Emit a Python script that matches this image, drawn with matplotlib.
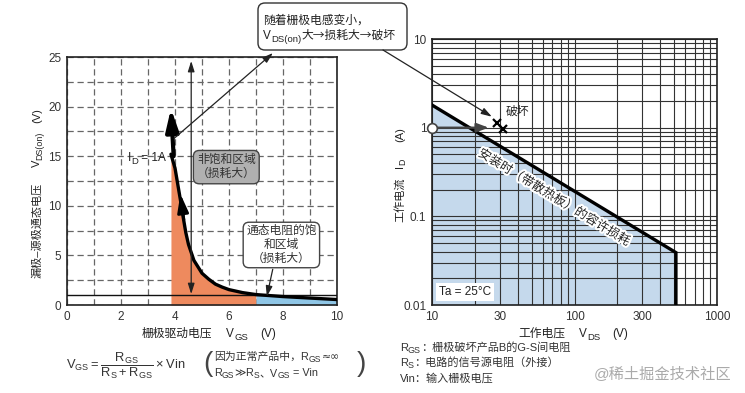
import numpy as np
import matplotlib
matplotlib.use('Agg')
import matplotlib.pyplot as plt
from matplotlib.patches import FancyBboxPatch
import matplotlib.patheffects as pe
from matplotlib.ticker import FixedLocator, LogLocator, NullFormatter

FAM = ['Liberation Sans', 'Noto Sans CJK SC', 'DejaVu Sans']
CJK = ['Noto Sans CJK SC', 'DejaVu Sans']
plt.rcParams['font.family'] = FAM
plt.rcParams['font.size'] = 8

# ---------------- data: left chart ----------------
vgs = [3.85, 4.0, 4.1, 4.2, 4.3, 4.4, 4.5, 4.7, 5.0, 5.25, 5.5, 5.75, 6.0, 6.5, 7.0, 8.0, 9.0, 10.0]
vds_on = [15.2, 13.8, 12.2, 10.6, 8.9, 7.3, 6.1, 4.5, 3.2, 2.6, 2.1, 1.8, 1.55, 1.25, 1.05, 0.85, 0.7, 0.55]
sat_boundary = 7.0
vds_ref = 1.0
left_xticks = [0, 2, 4, 6, 8, 10]
left_yticks = [0, 5, 10, 15, 20, 25]

# ---------------- data: right chart ----------------
soa_vds = [10, 515]
soa_id = [1.8, 0.039]
op_vds, op_id = 10, 1.0
op_arrow_vds = 25
break_vds = [28.5, 31.7]
break_id = [1.12, 0.96]
right_xticks = [10, 30, 100, 300, 1000]
right_xticklabels = ['10', '30', '100', '300', '1000']
right_yticks = [0.01, 0.1, 1, 10]
right_yticklabels = ['0.01', '0.1', '1', '10']

W, H = 745, 393
fig = plt.figure(figsize=(W / 100, H / 100), dpi=100)


def px_ax(l, t, r, b):
    return fig.add_axes([l / W, 1 - b / H, (r - l) / W, (b - t) / H])


ax1 = px_ax(67, 57, 337, 305)
ax2 = px_ax(432, 39, 717, 305)


def rich(ax, x, y, parts, coords='figure pixels', size=8, color='#222',
         rot=False, sub_scale=0.8, sub_off=1.3):
    """parts: list of (text, is_sub, gap_pts[, family])"""
    first = prev = None
    for p in parts:
        s, sub, gap = p[:3]
        fam = p[3] if len(p) > 3 else FAM
        fs = size * sub_scale if sub else size
        if first is None:
            t = ax.annotate(s, xy=(x, y), xycoords=coords, fontsize=fs, color=color,
                            ha='right' if rot else 'left',
                            va='bottom' if rot else 'baseline', family=fam,
                            rotation=90 if rot else 0, annotation_clip=False, zorder=8)
            first = t
        elif rot:
            t = ax.annotate(s, xy=(1, 1), xycoords=(first, prev),
                            xytext=(sub_off if sub else 0, gap), textcoords='offset points',
                            ha='right', va='bottom', rotation=90, fontsize=fs, family=fam,
                            color=color, annotation_clip=False, zorder=8)
        else:
            t = ax.annotate(s, xy=(1, 0), xycoords=(prev, first),
                            xytext=(gap, -sub_off if sub else 0), textcoords='offset points',
                            ha='left', va='bottom', fontsize=fs, color=color, family=fam,
                            annotation_clip=False, zorder=8)
        prev = t
    return first


# ---------------- left chart ----------------
ax1.set_xlim(0, 10)
ax1.set_ylim(0, 25)
ax1.set_xticks(left_xticks)
ax1.set_yticks(left_yticks)
ax1.xaxis.set_minor_locator(FixedLocator(np.arange(1, 10, 1)))
ax1.yaxis.set_minor_locator(FixedLocator(np.arange(2.5, 25, 2.5)))
ax1.grid(which='both', ls=(0, (5, 3)), color='#666', lw=0.9, zorder=1)
ax1.set_axisbelow(True)
ax1.tick_params(which='both', length=0, labelsize=8.5, colors='#333', pad=4)
for sp in ax1.spines.values():
    sp.set_color('#222')
    sp.set_linewidth(1.2)

x = np.array(vgs)
y = np.array(vds_on)
m1 = x <= sat_boundary
m2 = x >= sat_boundary
ax1.fill_between(x[m1], 0, y[m1], color='#ee8a5e', lw=0, zorder=2)
ax1.fill_between(x[m2], 0, y[m2], color='#8fc6e6', lw=0, zorder=2)
ax1.axhline(vds_ref, color='#111', lw=1.0, zorder=3)
ax1.plot(x, y, color='k', lw=2.4, zorder=4, solid_capstyle='round')

# thick arrow upward at top of the curve
ax1.annotate('', xy=(3.85, 19.8), xytext=(3.95, 15.0),
             arrowprops=dict(arrowstyle='-|>,head_length=1.1,head_width=0.32',
                             lw=3, color='k', mutation_scale=12, shrinkA=0, shrinkB=0),
             zorder=5)
# arrowhead on the curve
ax1.annotate('', xy=(4.2, 11.2), xytext=(4.33, 8.6),
             arrowprops=dict(arrowstyle='-|>,head_length=1.0,head_width=0.3',
                             lw=2, color='k', mutation_scale=11, shrinkA=0, shrinkB=0),
             zorder=5)
# thin double arrow
ax1.annotate('', xy=(4.6, 24.6), xytext=(4.6, 1.1),
             arrowprops=dict(arrowstyle='<|-|>,head_length=0.7,head_width=0.22',
                             lw=0.9, color='#222', mutation_scale=9, shrinkA=0, shrinkB=0),
             zorder=5)
# arrow to top annotation box
ax1.annotate('', xy=(273, H - 53), xycoords='figure pixels', xytext=(3.97, 16.8),
             textcoords='data',
             arrowprops=dict(arrowstyle='-|>,head_length=0.7,head_width=0.22',
                             lw=0.9, color='#222', mutation_scale=9, shrinkA=0, shrinkB=0),
             annotation_clip=False, zorder=6)

rich(ax1, 2.25, 14.5, [('I', False, 0), ('D', True, 0), (' = 1A', False, 0)],
     coords='data', size=8.5)

ax1.text(5.9, 13.9, '非饱和区域\n（损耗大）', ha='center', va='center', fontsize=8.5,
         color='#333', linespacing=1.25, zorder=7,
         bbox=dict(boxstyle='round,pad=0.3,rounding_size=0.5', fc='#b0b0b0',
                   ec='#444', lw=1))
ax1.text(7.94, 6.05, '通态电阻的饱\n和区域\n（损耗大）', ha='center', va='center',
         fontsize=8.5, color='#333', linespacing=1.2, zorder=7,
         bbox=dict(boxstyle='round,pad=0.25,rounding_size=0.5', fc='white',
                   ec='#444', lw=1))
ax1.annotate('', xy=(7.4, 0.85), xytext=(7.62, 3.6),
             arrowprops=dict(arrowstyle='-|>,head_length=0.7,head_width=0.22',
                             lw=0.9, color='#222', mutation_scale=9, shrinkA=0, shrinkB=0),
             zorder=6)

# left axis labels
rich(ax1, 142, H - 337, [('栅极驱动电压', False, 0), ('V', False, 10), ('GS', True, 0),
                         ('(V)', False, 9)], size=8.5)
rich(ax1, 42, H - 278, [('漏极–源极通态电压', False, 0), ('V', False, 11),
                        ('DS(on)', True, 0), ('(V)', False, 6)], size=8, rot=True)

# top annotation box
box = FancyBboxPatch((2.58, (H - 50) / 100), 1.49, 0.47,
                     boxstyle='round,pad=0,rounding_size=0.07',
                     transform=fig.dpi_scale_trans, fc='white', ec='#333', lw=1.0,
                     zorder=-1)
fig.add_artist(box)
rich(ax1, 263, H - 24, [('随着栅极电感变小，', False, 0)], size=8.5)
rich(ax1, 263, H - 39, [('V', False, 0), ('DS(on)', True, 0),
                        ('大→损耗大→破坏', False, 0, CJK)], size=8.5)

# formula
ax1.annotate(r'$\mathregular{V_{GS} = \dfrac{R_{GS}}{R_S + R_{GS}} \times Vin}$',
             xy=(66, H - 366), xycoords='figure pixels', ha='left', va='center',
             fontsize=9.3, color='#333', annotation_clip=False)
ax1.annotate('(', xy=(203, H - 364), xycoords='figure pixels', ha='left', va='center',
             fontsize=20, color='#444', annotation_clip=False)
ax1.annotate(')', xy=(357, H - 364), xycoords='figure pixels', ha='left', va='center',
             fontsize=20, color='#444', annotation_clip=False)
rich(ax1, 214, H - 360, [('因为正常产品中，R', False, 0), ('GS', True, 0),
                         ('≈∞', False, 0.5, ['DejaVu Sans'])],
     size=7.8, color='#333')
rich(ax1, 214, H - 376, [('R', False, 0), ('GS', True, 0), ('≫', False, 0, ['DejaVu Sans']),
                         ('R', False, 0), ('S', True, 0),
                         ('、V', False, 0), ('GS', True, 0), (' = Vin', False, 0)],
     size=7.8, color='#333')

# ---------------- right chart ----------------
ax2.set_xscale('log')
ax2.set_yscale('log')
ax2.set_xlim(10, 1000)
ax2.set_ylim(0.01, 10)
ax2.xaxis.set_major_locator(FixedLocator(right_xticks))
ax2.set_xticklabels(right_xticklabels)
ax2.yaxis.set_major_locator(FixedLocator(right_yticks))
ax2.set_yticklabels(right_yticklabels)
ax2.xaxis.set_minor_locator(LogLocator(base=10, subs=np.arange(2, 10) * 1.0, numticks=20))
ax2.yaxis.set_minor_locator(LogLocator(base=10, subs=np.arange(2, 10) * 1.0, numticks=20))
ax2.xaxis.set_minor_formatter(NullFormatter())
ax2.yaxis.set_minor_formatter(NullFormatter())
ax2.grid(which='both', color='#333', lw=0.8, ls='-')
ax2.tick_params(which='both', length=0, labelsize=8.5, colors='#333', pad=4)
for sp in ax2.spines.values():
    sp.set_color('#222')
    sp.set_linewidth(1.2)

ylo = ax2.get_ylim()[0]
ax2.fill_between(soa_vds, ylo, soa_id, color='#c5d9ec', lw=0, zorder=1)
ax2.plot(soa_vds + [soa_vds[-1]], soa_id + [ylo], color='k', lw=2.4, zorder=3,
         solid_joinstyle='miter')

ax2.annotate('', xy=(op_arrow_vds, op_id), xytext=(op_vds * 1.05, op_id),
             arrowprops=dict(arrowstyle='-|>,head_length=0.8,head_width=0.3',
                             lw=1.6, color='#444', mutation_scale=9, shrinkA=0, shrinkB=0),
             zorder=4)
ax2.plot([op_vds], [op_id], 'o', mfc='white', mec='#444', ms=7, mew=1.2, zorder=5,
         clip_on=False)
ax2.plot(break_vds, break_id, 'x', color='k', ms=6, mew=1.6, zorder=5)
ax2.text(40, 1.5, '破坏', ha='center', va='center', fontsize=8.5, color='#222')

ax2.annotate('', xy=(26.3, 1.33), xycoords='data', xytext=(383, H - 50),
             textcoords='figure pixels',
             arrowprops=dict(arrowstyle='-|>,head_length=0.7,head_width=0.22',
                             lw=0.9, color='#222', mutation_scale=9, shrinkA=0, shrinkB=0),
             annotation_clip=False, zorder=6)

ax2.text(71.7, 0.162, '安装时（带散热板）的容许损耗', rotation=-31.2, ha='center',
         va='center', rotation_mode='anchor', fontsize=9, color='#222', zorder=6,
         path_effects=[pe.withStroke(linewidth=3, foreground='white')])

ax2.text(0.025, 0.05, 'Ta = 25°C', transform=ax2.transAxes, ha='left', va='center',
         fontsize=8.5, color='#222', zorder=6,
         bbox=dict(boxstyle='square,pad=0.25', fc='white', ec='none'))

rich(ax2, 518, H - 337, [('工作电压', False, 0), ('V', False, 10), ('DS', True, 0),
                         ('(V)', False, 9)], size=8.5)
rich(ax2, 405, H - 222, [('工作电流', False, 0), ('I', False, 7), ('D', True, 0),
                         ('(A)', False, 12)], size=8, rot=True)

# notes
rich(ax2, 400, H - 351, [('R', False, 0), ('GS', True, 0), ('：栅极破坏产品B的G-S间电阻', False, 0)],
     size=8, color='#333')
rich(ax2, 400, H - 366, [('R', False, 0), ('S', True, 0), ('：电路的信号源电阻（外接）', False, 0)],
     size=8, color='#333')
rich(ax2, 400, H - 382, [('Vin：输入栅极电压', False, 0)], size=8, color='#333')

ax2.annotate('@稀土掘金技术社区', xy=(731, H - 378), xycoords='figure pixels', ha='right',
             va='baseline', fontsize=11, color='#aaaaaa', annotation_clip=False)

fig.savefig('out.png', dpi=100)
